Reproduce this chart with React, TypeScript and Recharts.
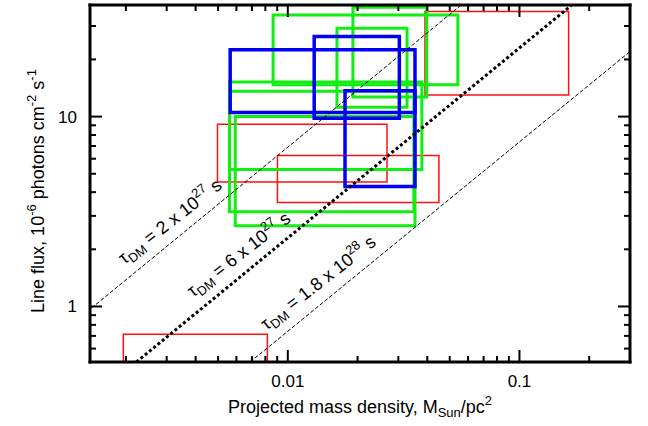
import React from 'react'
import { ComposedChart, Line, XAxis, YAxis, ReferenceArea, ReferenceDot, Label } from 'recharts'

const FONT = '"Liberation Sans", Arial, sans-serif'

// axis ticks (log scale)
const xTicks = [0.002, 0.003, 0.004, 0.005, 0.006, 0.007, 0.008, 0.009, 0.01, 0.02, 0.03, 0.04, 0.05, 0.06, 0.07, 0.08, 0.09, 0.1, 0.2]
const xMajor = [0.01, 0.1]
const xMajorLabels = ['0.01', '0.1']
const yTicks = [0.6, 0.7, 0.8, 0.9, 1, 2, 3, 4, 5, 6, 7, 8, 9, 10, 20, 30]
const yMajor = [1, 10]
const yMajorLabels = ['1', '10']

// boxes: [density min, density max, flux min, flux max]
const redBoxes = [
  [0.0391, 0.163, 13.0, 35.8],
  [0.00497, 0.0268, 4.52, 9.12],
  [0.00902, 0.0449, 3.53, 6.23],
  [0.00195, 0.00816, 0.4, 0.713],
]
const greenBoxes = [
  [0.00864, 0.0542, 14.7, 34.3],
  [0.0191, 0.0398, 12.7, 37.7],
  [0.0163, 0.0327, 11.2, 29.2],
  [0.0056, 0.0379, 5.27, 15.2],
  [0.0056, 0.035, 3.15, 13.6],
  [0.00593, 0.0354, 2.66, 10.0],
]
const blueBoxes = [
  [0.00564, 0.0354, 10.5, 22.5],
  [0.013, 0.0303, 9.8, 26.4],
  [0.01766, 0.0354, 4.28, 13.7],
]

// lifetime lines, end points
const tauValues = ['2 x 10', '6 x 10', '1.8 x 10']
const tauExps = ['27', '27', '28']
const lineDensity = [[0.00142, 0.0556], [0.00222, 0.167], [0.00688, 0.3]]
const lineFlux = [[0.98, 38.4], [0.51, 38.4], [0.51, 22.0]]
const labelDensity = [0.00197, 0.0039, 0.0081]
const labelFlux = [1.66, 1.11, 0.745]

const isIn = (list: number[], v: number) => list.findIndex(m => Math.abs(m - v) / m < 1e-6)

function makeTick(side: string, major: number[], labels: string[] | null) {
  return (props: any) => {
    const { x, y, payload } = props
    const idx = isIn(major, payload.value)
    const len = idx >= 0 ? 12 : 6
    let x2 = x, y2 = y
    if (side === 'bottom') y2 = y - len
    if (side === 'top') y2 = y + len
    if (side === 'left') x2 = x + len
    if (side === 'right') x2 = x - len
    return (
      <g>
        <line x1={x} y1={y} x2={x2} y2={y2} stroke="#000" strokeWidth={2} />
        {labels && idx >= 0 && side === 'bottom' &&
          <text x={x} y={y + 25} textAnchor="middle" fontSize={17} fontFamily={FONT} fill="#000">{labels[idx]}</text>}
        {labels && idx >= 0 && side === 'left' &&
          <text x={x - 13} y={y + 6} textAnchor="end" fontSize={17} fontFamily={FONT} fill="#000">{labels[idx]}</text>}
      </g>
    )
  }
}

const TauLabel = ({ cx, cy, value, exp }: any) => (
  <text x={cx} y={cy} transform={`rotate(-38 ${cx} ${cy})`} fontSize={18} fontFamily={FONT} fill="#000">
    τ<tspan dy={4} fontSize={13}>DM</tspan>
    <tspan dy={-4}>{' = ' + value}</tspan>
    <tspan dy={-8} fontSize={13}>{exp}</tspan>
    <tspan dy={8}>{' s'}</tspan>
  </text>
)

const XTitle = (p: any) => {
  const vb = p.viewBox
  return (
    <text x={vb.x + vb.width / 2} y={vb.y + 51} textAnchor="middle" fontSize={18} fontFamily={FONT} fill="#000">
      Projected mass density, M<tspan dy={4} fontSize={13}>Sun</tspan>
      <tspan dy={-4}>/pc</tspan>
      <tspan dy={-8} fontSize={13}>2</tspan>
    </text>
  )
}

const YTitle = (p: any) => {
  const vb = p.viewBox
  const cx = vb.x + vb.width - 46
  const cy = 191
  return (
    <text x={0} y={0} transform={`translate(${cx},${cy}) rotate(-90)`} textAnchor="middle" fontSize={18} fontFamily={FONT} fill="#000">
      Line flux, 10<tspan dy={-8} fontSize={13}>-6</tspan>
      <tspan dy={8}> photons cm</tspan>
      <tspan dy={-8} fontSize={13}>-2</tspan>
      <tspan dy={8}> s</tspan>
      <tspan dy={-8} fontSize={13}>-1</tspan>
    </text>
  )
}

const frame = { stroke: '#000', strokeWidth: 3, strokeLinecap: 'square' as const }

function boxes(list: number[][], color: string, width: number, key: string) {
  return list.map((b, i) => (
    <ReferenceArea key={key + i} xAxisId="b" yAxisId="l" x1={b[0]} x2={b[1]} y1={b[2]} y2={b[3]}
      fill="none" fillOpacity={0} stroke={color} strokeWidth={width} ifOverflow="hidden" />
  ))
}

export default function App() {
  return (
    <div style={{ position: 'absolute', left: 0, top: 0, background: '#fff' }}>
      <ComposedChart width={648} height={426} margin={{ top: 4, right: 17, bottom: 63, left: 89 }}>
        <XAxis xAxisId="b" dataKey="x" type="number" scale="log" domain={[0.0014, 0.3]} allowDataOverflow
          ticks={xTicks} interval={0} height={1} tickSize={0} tickMargin={0} tickLine={false} axisLine={frame}
          tick={makeTick('bottom', xMajor, xMajorLabels)}>
          <Label content={XTitle} />
        </XAxis>
        <XAxis xAxisId="t" orientation="top" dataKey="x" type="number" scale="log" domain={[0.0014, 0.3]} allowDataOverflow
          ticks={xTicks} interval={0} height={1} tickSize={0} tickMargin={0} tickLine={false} axisLine={frame}
          tick={makeTick('top', xMajor, null)} />
        <YAxis yAxisId="l" type="number" scale="log" domain={[0.51, 38.7]} allowDataOverflow
          ticks={yTicks} interval={0} width={1} tickSize={0} tickMargin={0} tickLine={false} axisLine={frame}
          tick={makeTick('left', yMajor, yMajorLabels)}>
          <Label content={YTitle} />
        </YAxis>
        <YAxis yAxisId="r" orientation="right" type="number" scale="log" domain={[0.51, 38.7]} allowDataOverflow
          ticks={yTicks} interval={0} width={1} tickSize={0} tickMargin={0} tickLine={false} axisLine={frame}
          tick={makeTick('right', yMajor, null)} />

        {boxes(redBoxes, '#ff1010', 1.5, 'r')}
        {boxes(greenBoxes, '#11ee11', 3, 'g')}
        {boxes(blueBoxes, '#0000f4', 3.5, 'bl')}

        {lineDensity.map((d, i) => (
          <Line key={'l' + i} xAxisId="b" yAxisId="l" data={[{ x: d[0], y: lineFlux[i][0] }, { x: d[1], y: lineFlux[i][1] }]}
            dataKey="y" stroke="#000" strokeWidth={i === 1 ? 3 : 1} strokeDasharray={i === 1 ? '3 2.5' : '4 2'}
            dot={false} activeDot={false} isAnimationActive={false} />
        ))}

        {labelDensity.map((d, i) => (
          <ReferenceDot key={'t' + i} xAxisId="b" yAxisId="l" x={d} y={labelFlux[i]} r={0}
            shape={(p: any) => <TauLabel cx={p.cx} cy={p.cy} value={tauValues[i]} exp={tauExps[i]} />} />
        ))}
      </ComposedChart>
    </div>
  )
}
